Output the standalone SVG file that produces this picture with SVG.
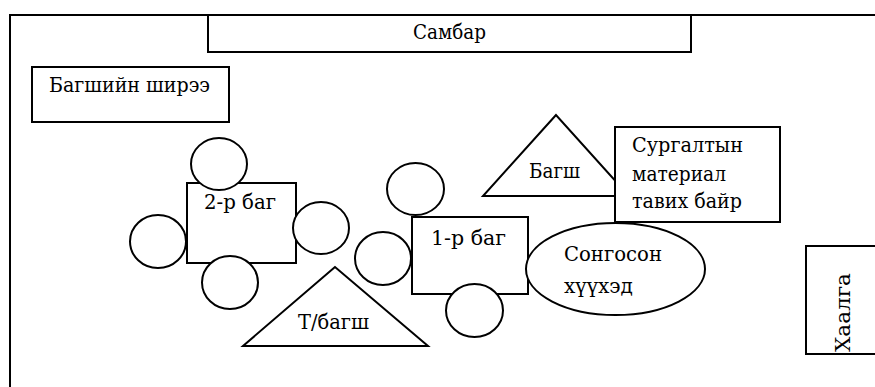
<svg xmlns="http://www.w3.org/2000/svg" width="875" height="387" viewBox="0 0 875 387">
<style>
.s{fill:#fff;stroke:#000;stroke-width:2}
text{font-family:"DejaVu Serif","Liberation Serif",serif;font-size:21px;fill:#000}
</style>
<rect width="875" height="387" fill="#fff"/>
<g id="frame"><path d="M10,387 V15 H875" fill="none" stroke="#000" stroke-width="2"/></g>
<g id="connectors"></g>
<g id="sambar"><rect class="s" x="208" y="15" width="483" height="37"/><text x="413" y="39" textLength="73" lengthAdjust="spacingAndGlyphs">Самбар</text></g>
<g id="teacher-desk"><rect class="s" x="32" y="67" width="197" height="55"/><text x="49" y="92" textLength="161" lengthAdjust="spacingAndGlyphs">Багшийн ширээ</text></g>
<g id="team2"><rect class="s" x="187" y="183" width="109" height="80"/><text x="204" y="209" textLength="72" lengthAdjust="spacingAndGlyphs">2-р баг</text></g>
<g id="team2-seat-top"><ellipse class="s" cx="219" cy="164" rx="28" ry="26"/></g>
<g id="team2-seat-left"><ellipse class="s" cx="158" cy="241.5" rx="28" ry="26.5"/></g>
<g id="team2-seat-right"><ellipse class="s" cx="321" cy="228" rx="28" ry="26"/></g>
<g id="team2-seat-bottom"><ellipse class="s" cx="230" cy="282.5" rx="28" ry="26.5"/></g>
<g id="assistant-teacher"><polygon class="s" points="335,267 243,346 428,346"/><text x="298" y="329" textLength="71" lengthAdjust="spacingAndGlyphs">Т/багш</text></g>
<g id="teacher"><polygon class="s" points="556,115 483,196 629,196"/><text x="529" y="178" textLength="51" lengthAdjust="spacingAndGlyphs">Багш</text></g>
<g id="materials"><rect class="s" x="615" y="127" width="165" height="95"/><text x="632" y="152" textLength="111" lengthAdjust="spacingAndGlyphs">Сургалтын</text><text x="632" y="181" textLength="94" lengthAdjust="spacingAndGlyphs">материал</text><text x="632" y="208" textLength="110" lengthAdjust="spacingAndGlyphs">тавих байр</text></g>
<g id="team1"><rect class="s" x="412" y="217" width="116" height="77"/><text x="431" y="245" textLength="75" lengthAdjust="spacingAndGlyphs">1-р баг</text></g>
<g id="team1-seat-top"><ellipse class="s" cx="415.5" cy="189" rx="28.5" ry="26"/></g>
<g id="team1-seat-left"><ellipse class="s" cx="383" cy="258.5" rx="28" ry="26.5"/></g>
<g id="team1-seat-bottom"><ellipse class="s" cx="474.5" cy="310.5" rx="28.5" ry="26.5"/></g>
<g id="selected-child"><ellipse class="s" cx="615.5" cy="269" rx="89.5" ry="46"/><text x="564" y="261" textLength="98" lengthAdjust="spacingAndGlyphs">Сонгосон</text><text x="564" y="293" textLength="69" lengthAdjust="spacingAndGlyphs">хүүхэд</text></g>
<g id="door"><rect class="s" x="806" y="246" width="80" height="108"/><text transform="translate(850,352) rotate(-90)" textLength="79" lengthAdjust="spacingAndGlyphs">Хаалга</text></g>
</svg>
